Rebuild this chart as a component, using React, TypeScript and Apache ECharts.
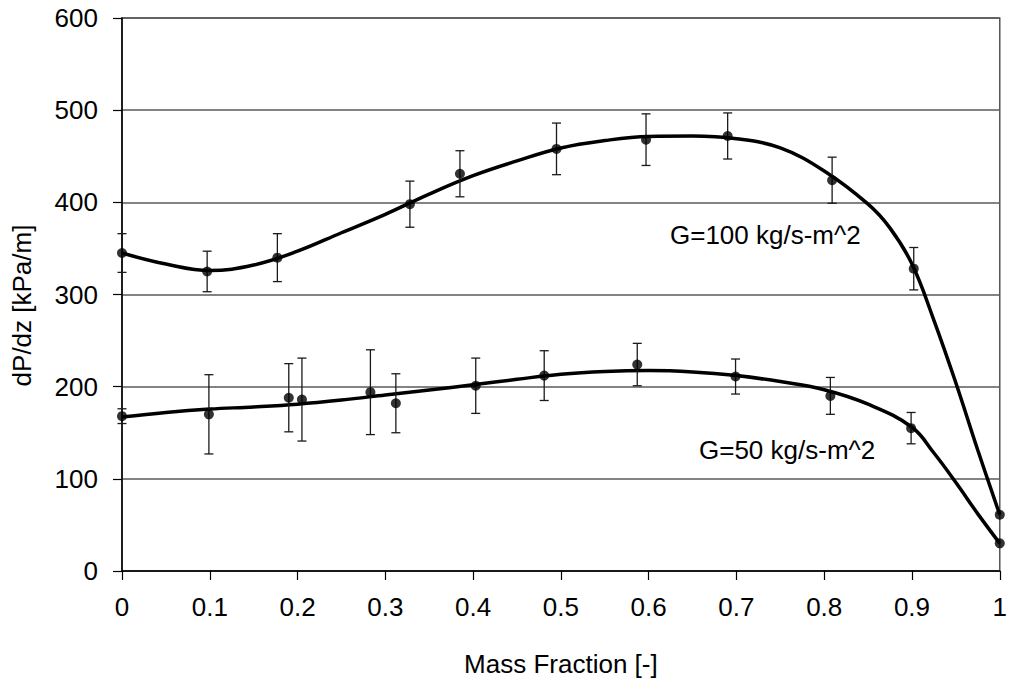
import React, { useEffect, useRef } from "react";
import * as echarts from "echarts";

// Fitted curves
const curve100X = [0, 0.05, 0.1, 0.15, 0.2, 0.25, 0.3, 0.35, 0.4, 0.45, 0.5, 0.55, 0.6, 0.65, 0.7, 0.75, 0.8, 0.85, 0.875, 0.9, 0.925, 0.95, 0.975, 1];
const curve100Y = [345, 333, 326, 332, 347, 367, 387, 409, 429, 445, 459, 467, 471.5, 472, 469, 459, 434, 398, 372, 333, 272, 204, 131, 61];
const curve50X = [0, 0.05, 0.1, 0.15, 0.2, 0.25, 0.3, 0.35, 0.4, 0.45, 0.5, 0.55, 0.6, 0.65, 0.7, 0.75, 0.8, 0.85, 0.9, 0.925, 0.95, 0.975, 1];
const curve50Y = [167, 172, 175.7, 178, 181, 185.5, 191, 196.5, 202, 208, 213.5, 216.5, 217.5, 216, 212, 205.5, 196.7, 181, 156, 128, 96, 62, 30];

// Measured points with error (+/-)
const pts100X = [0, 0.097, 0.177, 0.328, 0.385, 0.495, 0.597, 0.69, 0.809, 0.902, 1];
const pts100Y = [345, 325, 340, 398, 431, 458, 468, 472, 424, 328, 61];
const pts100E = [21, 22, 26, 25, 25, 28, 28, 25, 25, 23, 0];
const pts50X = [0, 0.099, 0.19, 0.205, 0.283, 0.312, 0.403, 0.481, 0.587, 0.699, 0.807, 0.899, 1];
const pts50Y = [168, 170, 188, 186, 194, 182, 201, 212, 224, 211, 190, 155, 30];
const pts50E = [8, 43, 37, 45, 46, 32, 30, 27, 23, 19, 20, 17, 0];

const xTitle = "Mass Fraction [-]";
const yTitle = "dP/dz [kPa/m]";
const label100 = "G=100 kg/s-m^2";
const label50 = "G=50 kg/s-m^2";

const FONT = "'Liberation Sans', Arial, sans-serif";
const FS = 26;

function pairs(xs: number[], ys: number[]) {
  return xs.map((x, i) => [x, ys[i]]);
}
function errs(xs: number[], ys: number[], es: number[]) {
  return xs
    .map((x, i) => [x, ys[i] - es[i], ys[i] + es[i]])
    .filter((_, i) => es[i] > 0);
}

export default function App() {
  const ref = useRef<HTMLDivElement>(null);
  useEffect(() => {
    if (!ref.current) return;
    const chart = echarts.init(ref.current, undefined, { renderer: "svg" });
    const renderErr = (params: any, api: any) => {
      const x = api.value(0);
      const lo = api.coord([x, api.value(1)]);
      const hi = api.coord([x, api.value(2)]);
      const hw = 4.5;
      const st = { stroke: "#1a1a1a", lineWidth: 1.3 };
      return {
        type: "group",
        children: [
          { type: "line", shape: { x1: lo[0], y1: lo[1], x2: hi[0], y2: hi[1] }, style: st },
          { type: "line", shape: { x1: lo[0] - hw, y1: lo[1], x2: lo[0] + hw, y2: lo[1] }, style: st },
          { type: "line", shape: { x1: hi[0] - hw, y1: hi[1], x2: hi[0] + hw, y2: hi[1] }, style: st },
        ],
      };
    };
    const curveStyle = { color: "#000", width: 3.5 };
    chart.setOption({
      animation: false,
      backgroundColor: "#fff",
      textStyle: { fontFamily: FONT },
      grid: {
        left: 122,
        right: 5,
        top: 18,
        bottom: 112,
        show: true,
        borderColor: "#555",
        borderWidth: 1.5,
        backgroundColor: "transparent",
      },
      xAxis: {
        type: "value",
        min: 0,
        max: 1,
        interval: 0.1,
        name: xTitle,
        nameLocation: "middle",
        nameGap: 80,
        nameTextStyle: { fontSize: FS, color: "#000", fontFamily: FONT },
        axisLine: { lineStyle: { color: "#000", width: 1.5 } },
        axisTick: { show: true, inside: false, length: 9, lineStyle: { color: "#000", width: 1.2 } },
        axisLabel: { fontSize: FS, color: "#000", margin: 23, fontFamily: FONT },
        splitLine: { show: false },
      },
      yAxis: {
        type: "value",
        min: 0,
        max: 600,
        interval: 100,
        name: yTitle,
        nameLocation: "middle",
        nameGap: 87,
        nameRotate: 90,
        nameTextStyle: { fontSize: FS, color: "#000", fontFamily: FONT, padding: [0, 22, 0, 0] },
        axisLine: { show: true, lineStyle: { color: "#000", width: 1.5 } },
        axisTick: { show: true, inside: false, length: 9, lineStyle: { color: "#000", width: 1.2 } },
        axisLabel: { fontSize: FS, color: "#000", margin: 24, fontFamily: FONT },
        splitLine: { show: true, lineStyle: { color: "#5a5a5a", width: 1.5 } },
      },
      graphic: [
        {
          type: "text",
          left: 670,
          top: 237 - FS * 0.58,
          style: { text: label100, fontSize: FS, fill: "#000", fontFamily: FONT },
        },
        {
          type: "text",
          left: 699,
          top: 452 - FS * 0.58,
          style: { text: label50, fontSize: FS, fill: "#000", fontFamily: FONT },
        },
      ],
      series: [
        {
          name: "G=100 fit",
          type: "line",
          smooth: 0.4,
          showSymbol: false,
          symbol: "none",
          data: pairs(curve100X, curve100Y),
          lineStyle: curveStyle,
          z: 2,
        },
        {
          name: "G=50 fit",
          type: "line",
          smooth: 0.4,
          showSymbol: false,
          symbol: "none",
          data: pairs(curve50X, curve50Y),
          lineStyle: curveStyle,
          z: 2,
        },
        {
          name: "G=100 error",
          type: "custom",
          renderItem: renderErr,
          encode: { x: 0, y: [1, 2] },
          data: errs(pts100X, pts100Y, pts100E),
          z: 3,
        },
        {
          name: "G=50 error",
          type: "custom",
          renderItem: renderErr,
          encode: { x: 0, y: [1, 2] },
          data: errs(pts50X, pts50Y, pts50E),
          z: 3,
        },
        {
          name: "G=100 kg/s-m^2",
          type: "scatter",
          symbol: "circle",
          symbolSize: 10,
          itemStyle: { color: "#000" },
          data: pairs(pts100X, pts100Y),
          z: 4,
        },
        {
          name: "G=50 kg/s-m^2",
          type: "scatter",
          symbol: "circle",
          symbolSize: 10,
          itemStyle: { color: "#000" },
          data: pairs(pts50X, pts50Y),
          z: 4,
        },
      ],
    });
    return () => chart.dispose();
  }, []);
  return (
    <div
      ref={ref}
      style={{ position: "absolute", left: 0, top: 0, width: 1010, height: 683, background: "#fff" }}
    />
  );
}
